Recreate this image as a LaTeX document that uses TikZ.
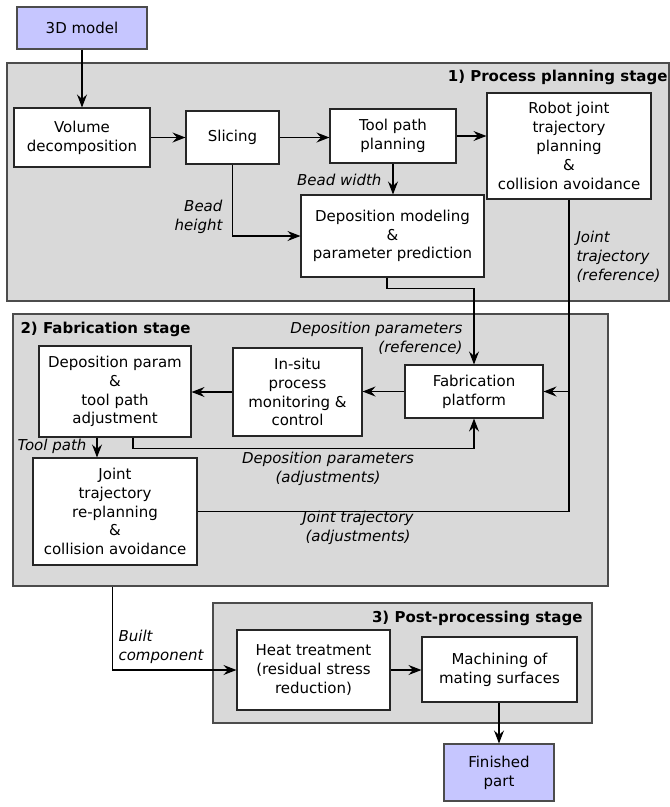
\documentclass[tikz,border=0pt]{standalone}
\usepackage{fontspec}
\setmainfont{DejaVu Sans}
\usetikzlibrary{arrows.meta}
\definecolor{stagegray}{HTML}{D9D9D9}
\definecolor{inoutblue}{HTML}{C6C6FF}

\begin{document}
\begin{tikzpicture}[x=1pt,y=-1pt,
    font=\fontsize{15}{18.8}\selectfont,
    line width=1.1pt,
    >={Stealth[length=13pt,width=10pt,inset=4.5pt]},
    box/.style={draw=black!85, fill=white, align=center, inner sep=2pt},
    io/.style={box, draw=black!70, fill=inoutblue},
    stage/.style={draw=black!70, fill=stagegray, inner sep=0pt},
    lbl/.style={font=\fontsize{15}{18.8}\selectfont\itshape, inner sep=0pt},
    stagetitle/.style={font=\fontsize{15}{18.8}\selectfont\bfseries, inner sep=0pt}]
     \useasboundingbox (0,0) rectangle (670,807);
     % stages
     \node[stage, minimum width=662pt, minimum height=238pt] (s1) at (338,182) {};
     \node[stage, minimum width=595pt, minimum height=272pt] (s2) at (310.5,450) {};
     \node[stage, minimum width=379pt, minimum height=120pt] (s3) at (402.5,663) {};
     \node[stagetitle, anchor=east] (t1) at (668,77) {1) Process planning stage};
     \node[stagetitle, anchor=west] (t2) at (20,329) {2) Fabrication stage};
     \node[stagetitle, anchor=east] (t3) at (583,618) {3) Post-processing stage};
     % blocks
     \node[io, minimum width=130pt, minimum height=42pt] (model) at (82,28) {3D model};
     \node[box, minimum width=136pt, minimum height=59pt] (vol) at (82,137.5) {Volume\\decomposition};
     \node[box, minimum width=93pt, minimum height=53pt] (slc) at (232.5,137.5) {Slicing};
     \node[box, minimum width=126pt, minimum height=54pt] (tpp) at (393,136) {Tool path\\planning};
     \node[box, minimum width=164pt, minimum height=106pt] (rjt) at (569,146) {Robot joint\\trajectory\\planning\\\&\\collision avoidance};
     \node[box, minimum width=183pt, minimum height=82pt] (dmp) at (392.5,236) {Deposition modeling\\\&\\parameter prediction};
     \node[box, minimum width=138pt, minimum height=53pt] (fab) at (474,391.5) {Fabrication\\platform};
     \node[box, minimum width=129pt, minimum height=88pt] (ins) at (297.5,392) {In-situ\\process\\monitoring \&\\control};
     \node[box, minimum width=152pt, minimum height=91pt] (dpa) at (115,391.5) {Deposition param\\\&\\tool path\\adjustment};
     \node[box, minimum width=164pt, minimum height=107pt] (jre) at (115,511.5) {Joint\\trajectory\\re-planning\\\&\\collision avoidance};
     \node[box, minimum width=153pt, minimum height=80pt] (heat) at (313.5,670) {Heat treatment\\(residual stress\\reduction)};
     \node[box, minimum width=155pt, minimum height=65pt] (mach) at (499.5,669.5) {Machining of\\mating surfaces};
     \node[io, minimum width=110pt, minimum height=57pt] (fin) at (499,772.5) {Finished\\part};
     % labels
     \node[lbl, anchor=east, align=right] (bh) at (223,217) {Bead\\height};
     \node[lbl, anchor=east] (bw) at (382,180) {Bead width};
     \node[lbl, anchor=west, align=left] (jtr) at (576,257) {Joint\\trajectory\\(reference)};
     \node[lbl, anchor=east, align=right] (dpr) at (463,338) {Deposition parameters\\(reference)};
     \node[lbl, align=center] (dpadj) at (328,469) {Deposition parameters\\(adjustments)};
     \node[lbl, anchor=east] (tp) at (87,446) {Tool path};
     \node[lbl, align=center] (jtadj) at (358,528) {Joint trajectory\\(adjustments)};
     \node[lbl, anchor=west, align=left] (bc) at (118,647) {Built\\component};
     % connectors
     \coordinate (jj) at (rjt.south |- fab.east);
     \draw[->] (model) -- (vol);
     \draw[->] (vol) -- (slc);
     \draw[->] (slc.east) -- (tpp.west |- slc.east);
     \draw[->] (tpp.east) -- (rjt.west |- tpp.east);
     \draw[->] (slc.south) |- (dmp.west);
     \draw[->] (tpp.south) -- (tpp.south |- dmp.north);
     \draw[->] ([xshift=-5.5pt]dmp.south) -- ++(0,11) -| (fab.north);
     \draw[->] (rjt.south) |- (fab.east);
     \draw (jre.east) -| (jj);
     \draw[->] (fab.west) -- (ins.east |- fab.west);
     \draw[->] (ins.west) -- (dpa.east |- ins.west);
     \draw[->] ([xshift=18pt]dpa.south) -- ++(0,11) -| (fab.south);
     \draw[->] ([xshift=-18pt]dpa.south) -- ([xshift=-18pt]jre.north);
     \draw[->] ([xshift=100pt]s2.south west) |- (heat.west);
     \draw[->] (heat.east) -- (mach.west |- heat.east);
     \draw[->] (mach.south -| fin.north) -- (fin.north);
    \end{tikzpicture}
\end{document}
